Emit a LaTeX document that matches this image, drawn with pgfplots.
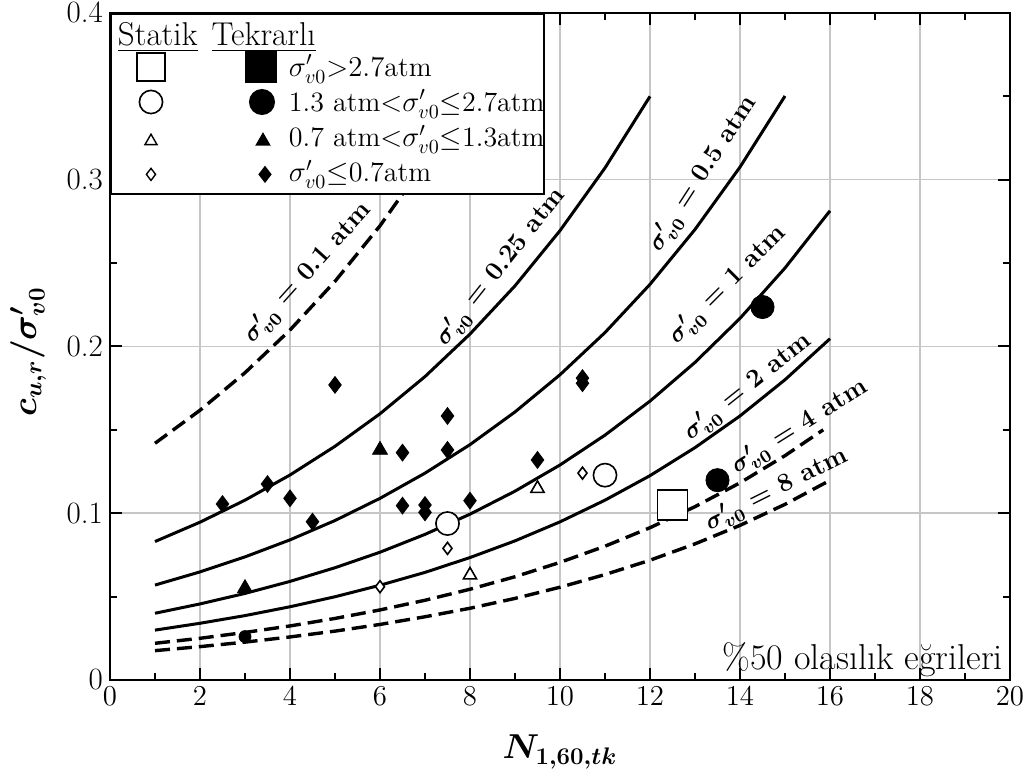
\documentclass[border=0pt]{standalone}
\usepackage{pgfplots}
\pgfplotsset{compat=1.18}
\usepackage{bm}
\usepackage{amssymb}
\begin{document}
\begin{tikzpicture}
\path[use as bounding box] (-55pt,-50pt) rectangle (462.5pt,340pt);
\begin{axis}[
  scale only axis,
  width=450pt, height=333.6pt,
  xmin=0, xmax=20, ymin=0, ymax=0.4,
  xtick={0,2,...,20}, minor xtick={1,3,...,19},
  ytick={0,0.1,0.2,0.3,0.4}, minor ytick={0.05,0.15,0.25,0.35},
  yticklabels={0,0.1,0.2,0.3,0.4},
  tick align=inside,
  major tick length=6pt, minor tick length=3.5pt,
  every tick/.style={black, line width=1pt},
  grid=major,
  major grid style={gray!45, line width=0.7pt},
  axis line style={black, line width=1.2pt},
  tick label style={font=\fontsize{15.5}{17}\selectfont},
  xlabel={$\bm{N_{1,60,tk}}$},
  ylabel={$\bm{c_{u,r}/\sigma'_{v0}}$},
  label style={font=\fontsize{17}{19}\selectfont},
  xlabel style={at={(axis description cs:0.5,-0.108)}, anchor=center},
  ylabel style={at={(axis description cs:-0.091,0.492)}, anchor=center},
  legend style={at={(0,1)}, anchor=north west, draw=black, line width=1pt, fill=white,
    inner xsep=0pt, inner ysep=2pt, row sep=0pt, column sep=3pt,
    cells={anchor=west}, nodes={inner sep=0pt, draw=none, fill=none},
    font=\fontsize{14}{16}\selectfont},
]
% legend rows
\addlegendimage{legend image code/.code={
  \path[draw=none, fill=none] (0pt,-7.85pt) rectangle (86pt,7.85pt);
  \node[overlay, anchor=west, inner sep=0pt, draw=none, font=\fontsize{16.5}{18}\selectfont] at (3pt,-1pt) {\underline{Statik}\hspace{7pt}\underline{Tekrarlı}};
}}
\addlegendentry{}
\addlegendimage{legend image code/.code={
  \path[draw=none, fill=none] (0pt,-8.8pt) rectangle (86pt,8.8pt);
  \draw[line width=0.8pt, fill=white] (13pt,-7pt) rectangle (27pt,7pt);
  \fill[black] (67.5pt,-7.5pt) rectangle (82.5pt,7.5pt);
}}
\addlegendentry{$\sigma'_{v0}{>}2.7$atm}
\addlegendimage{legend image code/.code={
  \path[draw=none, fill=none] (0pt,-8.8pt) rectangle (86pt,8.8pt);
  \draw[line width=0.8pt, fill=white] (20pt,0pt) circle (5.8pt);
  \fill[black] (75.5pt,0pt) circle (6pt);
}}
\addlegendentry{1.3 atm${<}\sigma'_{v0}{\leq}$2.7atm}
\addlegendimage{legend image code/.code={
  \path[draw=none, fill=none] (0pt,-8.8pt) rectangle (86pt,8.8pt);
  \draw[line width=0.7pt, fill=white] (20pt,1.5pt) -- (16.97pt,-3.75pt) -- (23.03pt,-3.75pt) -- cycle;
  \fill[black] (76pt,1.5pt) -- (72.97pt,-3.75pt) -- (79.03pt,-3.75pt) -- cycle;
}}
\addlegendentry{0.7 atm${<}\sigma'_{v0}{\leq}$1.3atm}
\addlegendimage{legend image code/.code={
  \path[draw=none, fill=none] (0pt,-8.8pt) rectangle (86pt,8.8pt);
  \draw[line width=0.7pt, fill=white] (20pt,2pt) -- (22.3pt,-1pt) -- (20pt,-4pt) -- (17.7pt,-1pt) -- cycle;
  \fill[black] (77pt,2.5pt) -- (79.7pt,-1pt) -- (77pt,-4.5pt) -- (74.3pt,-1pt) -- cycle;
}}
\addlegendentry{$\sigma'_{v0}{\leq}$0.7atm}

% curves
\addplot[black, line width=1.7pt, dash pattern=on 7.5pt off 3.5pt] coordinates {
(1,0.1419)(2,0.1617)(3,0.1842)(4,0.2098)(5,0.2390)(6,0.2723)(7,0.3103)(7.8,0.3446)};
\addplot[black, line width=1.5pt] coordinates {
(1,0.0830)(2,0.0946)(3,0.1078)(4,0.1229)(5,0.1401)(6,0.1596)(7,0.1819)(8,0.2074)(9,0.2363)(10,0.2694)(11,0.3070)(12,0.3499)};
\addplot[black, line width=1.5pt] coordinates {
(1,0.0569)(2,0.0648)(3,0.0738)(4,0.0840)(5,0.0956)(6,0.1089)(7,0.1240)(8,0.1411)(9,0.1607)(10,0.1830)(11,0.2083)(12,0.2372)(13,0.2701)(14,0.3075)(15,0.3501)};
\addplot[black, line width=1.5pt] coordinates {
(1,0.0400)(2,0.0456)(3,0.0519)(4,0.0591)(5,0.0673)(6,0.0766)(7,0.0873)(8,0.0994)(9,0.1132)(10,0.1289)(11,0.1468)(12,0.1672)(13,0.1904)(14,0.2168)(15,0.2470)(16,0.2813)};
\addplot[black, line width=1.5pt] coordinates {
(1,0.0299)(2,0.0340)(3,0.0386)(4,0.0439)(5,0.0499)(6,0.0568)(7,0.0645)(8,0.0734)(9,0.0834)(10,0.0948)(11,0.1078)(12,0.1225)(13,0.1393)(14,0.1583)(15,0.1800)(16,0.2046)};
\addplot[black, line width=1.7pt, dash pattern=on 7.5pt off 3.5pt] coordinates {
(1,0.0220)(2,0.0250)(3,0.0285)(4,0.0324)(5,0.0369)(6,0.0420)(7,0.0478)(8,0.0544)(9,0.0619)(10,0.0705)(11,0.0802)(12,0.0913)(13,0.1039)(14,0.1182)(15,0.1345)(15.85,0.1500)};
\addplot[black, line width=1.7pt, dash pattern=on 7.5pt off 3.5pt] coordinates {
(1,0.0176)(2,0.0200)(3,0.0227)(4,0.0258)(5,0.0293)(6,0.0333)(7,0.0379)(8,0.0430)(9,0.0489)(10,0.0556)(11,0.0632)(12,0.0718)(13,0.0816)(14,0.0927)(15,0.1053)(16,0.1197)};

% data points
\addplot[only marks, mark=diamond*, mark size=4.2pt, black] coordinates {
(2.5,0.1055)(3.5,0.1175)(4,0.1089)(4.5,0.0949)(5,0.1769)(6.5,0.1363)(6.5,0.1045)(7,0.1049)(7,0.1005)(7.5,0.1583)(7.5,0.1379)(8,0.1075)(9.5,0.1319)(10.5,0.1779)(10.5,0.1810)};
\addplot[only marks, mark=triangle*, mark size=4.3pt, black] coordinates {(6,0.1379)(3,0.0550)};
\addplot[only marks, mark=triangle*, mark size=3.8pt, draw=black, fill=white, mark options={line width=0.8pt, fill=white}] coordinates {(8,0.0629)(9.5,0.1148)};
\addplot[only marks, mark=diamond*, mark size=3pt, draw=black, mark options={line width=0.8pt, fill=white}] coordinates {(6,0.0559)(7.5,0.0789)(10.5,0.1240)};
\addplot[only marks, mark=*, mark size=3pt, black] coordinates {(3,0.026)};
\addplot[only marks, mark=*, mark size=5.8pt, draw=black, mark options={line width=0.8pt, fill=white}] coordinates {(7.5,0.0938)(11,0.1228)};
\addplot[only marks, mark=*, mark size=5.8pt, black] coordinates {(13.5,0.1198)(14.5,0.2236)};
\addplot[only marks, mark=square*, mark size=7.5pt, draw=black, mark options={line width=0.8pt, fill=white}] coordinates {(12.5,0.1048)};

% curve labels
\node[rotate=48, font=\fontsize{13}{15}\selectfont\bfseries] at (axis cs:4.40,0.2440) {$\bm{\sigma'_{v0}}$ = 0.1 atm};
\node[rotate=51.5, font=\fontsize{13}{15}\selectfont\bfseries] at (axis cs:8.69,0.2476) {$\bm{\sigma'_{v0}}$ = 0.25 atm};
\node[rotate=57, font=\fontsize{13}{15}\selectfont\bfseries] at (axis cs:13.18,0.3034) {$\bm{\sigma'_{v0}}$ = 0.5 atm};
\node[rotate=45, font=\fontsize{13}{15}\selectfont\bfseries] at (axis cs:13.73,0.2368) {$\bm{\sigma'_{v0}}$ = 1 atm};
\node[rotate=38.5, font=\fontsize{13}{15}\selectfont\bfseries] at (axis cs:14.18,0.1757) {$\bm{\sigma'_{v0}}$ = 2 atm};
\node[rotate=32, font=\fontsize{13}{15}\selectfont\bfseries] at (axis cs:15.33,0.1517) {$\bm{\sigma'_{v0}}$ = 4 atm};
\node[rotate=26.5, font=\fontsize{13}{15}\selectfont\bfseries] at (axis cs:14.82,0.1139) {$\bm{\sigma'_{v0}}$ = 8 atm};
\node[anchor=base east, inner sep=0pt, font=\fontsize{18}{20}\selectfont] at (axis cs:19.85,0.006) {\%50 olasılık eğrileri};
\end{axis}
\end{tikzpicture}
\end{document}
